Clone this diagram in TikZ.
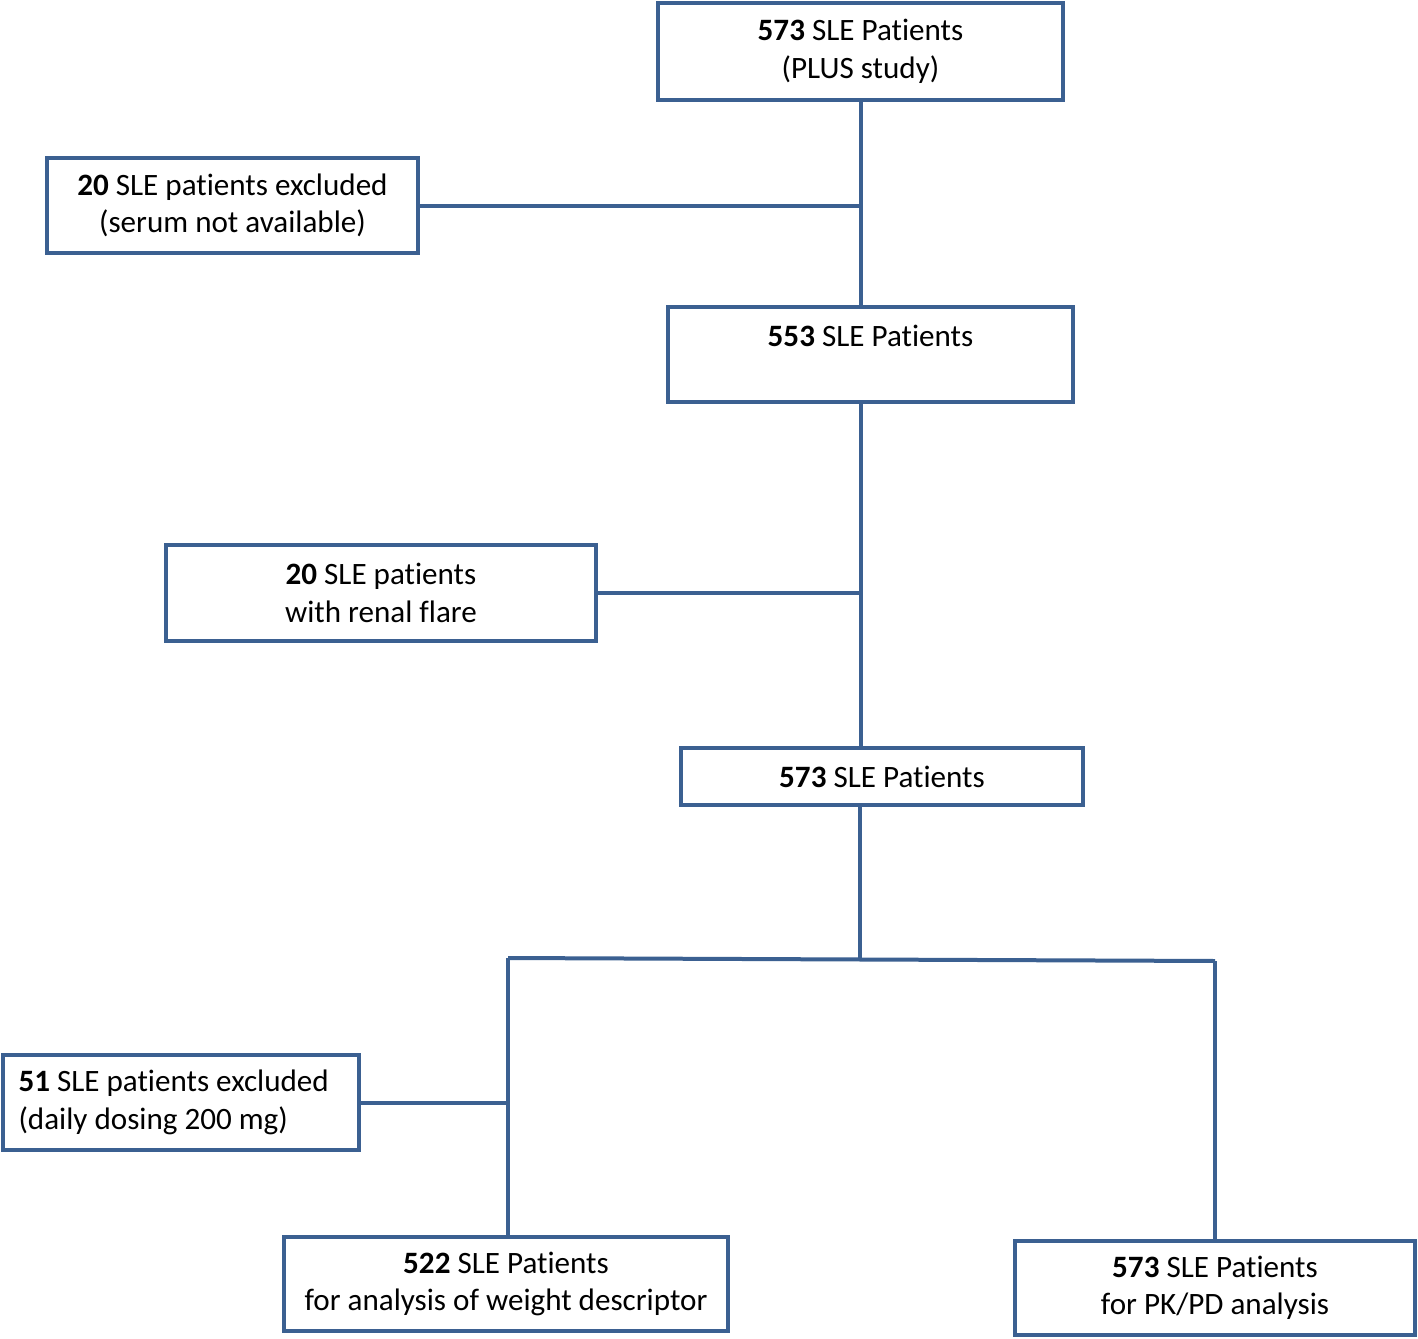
\documentclass[tikz,border=0pt]{standalone}
\usepackage{fontspec}
\setmainfont[Ligatures=NoCommon]{Carlito}
\definecolor{lineblue}{RGB}{59,96,145}
\tikzset{box/.style={draw=lineblue, line width=0.08cm, fill=white, inner sep=0pt, align=center, font=\fontsize{17.7}{21.3}\selectfont},
link/.style={draw=lineblue, line width=0.08cm}}
\begin{document}
\begin{tikzpicture}[x=0.02cm, y=-0.02cm]
\useasboundingbox (0,0) rectangle (1418,1339);
\node[box, minimum width=8.1cm, minimum height=1.94cm] (top) at (860.5,51.5) {\textbf{573} SLE Patients\\(PLUS study)};
\node[box, minimum width=7.42cm, minimum height=1.9cm] (excl1) at (232.5,205.5) {\textbf{20} SLE patients excluded\\(serum not available)};
\node[box, minimum width=8.1cm, minimum height=1.9cm] (mid) at (870.5,354.5) {\textbf{553} SLE Patients\\~};
\node[box, minimum width=8.6cm, minimum height=1.92cm] (flare) at (381,593) {\textbf{20} SLE patients\\with renal flare};
\node[box, minimum width=8.04cm, minimum height=1.14cm] (pool) at (882,776.5) {\textbf{573} SLE Patients};
\node[box, minimum width=7.12cm, minimum height=1.9cm, align=flush left, text width=6.5cm] (excl2) at (181,1102.5) {\textbf{51} SLE patients excluded\\(daily dosing 200 mg)};
\node[box, minimum width=8.88cm, minimum height=1.88cm] (weight) at (506,1284) {\textbf{522} SLE Patients\\for analysis of weight descriptor};
\node[box, minimum width=8cm, minimum height=1.88cm] (pkpd) at (1215,1288) {\textbf{573} SLE Patients\\for PK/PD analysis};
\coordinate (split) at (860,958);
\coordinate (splitL) at (508,958);
\coordinate (splitR) at (1215,961);
% trunk
\draw[link] (top.south) -- (top.south |- mid.north);
\draw[link] (excl1.east) -- (excl1.east -| top.south);
\draw[link] (mid.south -| top.south) -- (pool.north -| top.south);
\draw[link] (flare.east) -- (flare.east -| top.south);
\draw[link] (pool.south -| split) -- (split);
% split into the two analyses
\draw[link] (splitL) -- (splitR);
\draw[link] (splitL) -- (splitL |- weight.north);
\draw[link] (splitR) -- (pkpd.north);
\draw[link] (excl2.east) -- (excl2.east -| splitL);
\end{tikzpicture}
\end{document}
